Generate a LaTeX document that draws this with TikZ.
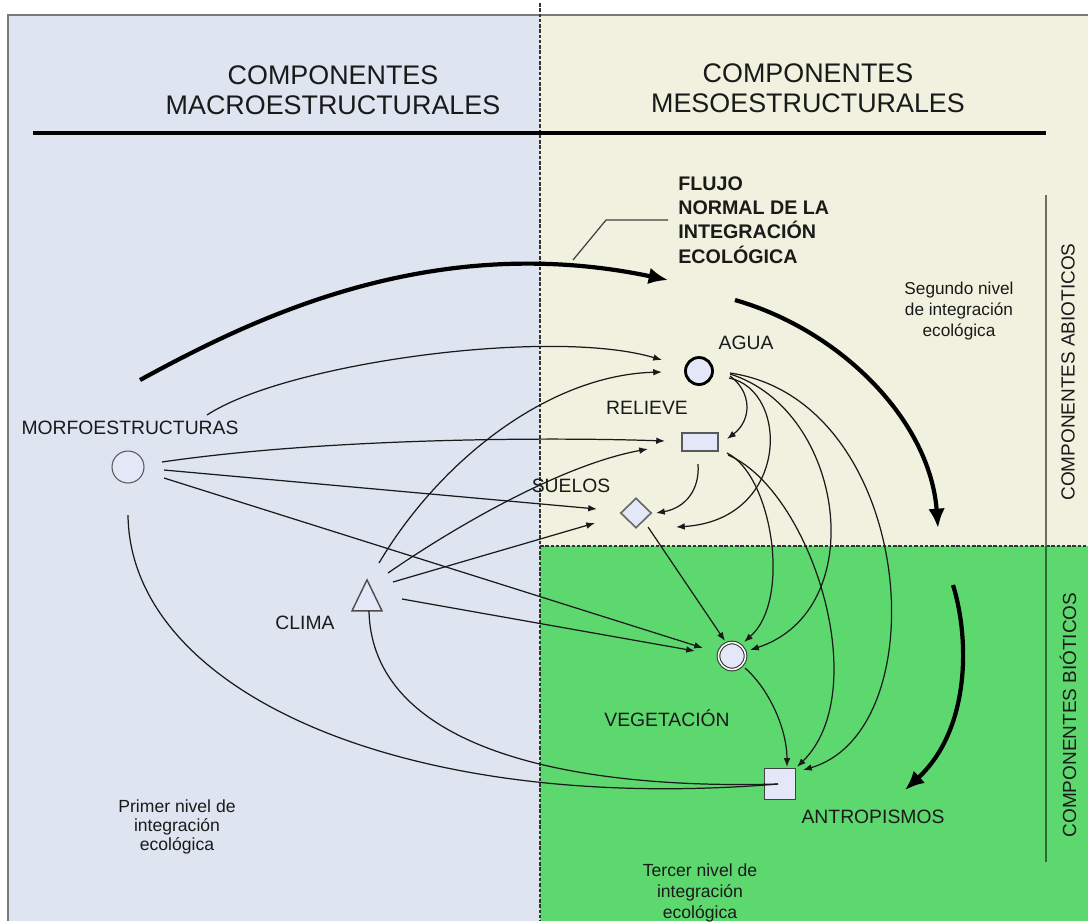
\documentclass[tikz,border=0pt]{standalone}
\usepackage{fontspec}
\setmainfont{Liberation Sans}
\usetikzlibrary{arrows.meta,shapes.geometric,calc}
\definecolor{leftbg}{HTML}{DEE5F1}
\definecolor{creambg}{HTML}{F0F1DE}
\definecolor{greenbg}{HTML}{5DD86F}
\definecolor{nodefill}{HTML}{E4E7F7}
\definecolor{ink}{HTML}{1A1A1A}
\definecolor{framegray}{HTML}{7A7A7A}
\definecolor{sidegray}{HTML}{6E6E60}
\definecolor{sidegreen}{HTML}{2E6A33}
\tikzset{
  thinarr/.style={draw=ink, line width=0.7pt, -{Latex[length=5pt,width=3.8pt]}},
  thinline/.style={draw=ink, line width=0.7pt},
  thickarr/.style={draw=black, line width=2.4pt, -{Latex[length=11pt,width=9.5pt]}},
  lbl/.style={text=ink, font=\fontsize{11}{13}\selectfont, inner sep=0pt},
  hdr/.style={text=ink, font=\fontsize{15.3}{17}\selectfont, align=center, inner sep=0pt},
  sidelbl/.style={text=ink, font=\fontsize{10.8}{12}\selectfont, rotate=90, inner sep=0pt},
  morfoshape/.style={circle, draw=black!65, fill=nodefill, line width=0.6pt, minimum size=0.64cm, inner sep=0pt},
  aguashape/.style={circle, draw=black, fill=nodefill, line width=1.6pt, minimum size=0.54cm, inner sep=0pt},
  relieveshape/.style={rectangle, draw=black!65, fill=nodefill, line width=1.1pt, minimum width=0.72cm, minimum height=0.36cm, inner sep=0pt},
  suelosshape/.style={diamond, draw=black!60, fill=nodefill, line width=0.9pt, minimum width=0.62cm, minimum height=0.6cm, inner sep=0pt},
  vegshape/.style={circle, draw=black!80, double=white, double distance=0.9pt, fill=nodefill, line width=0.6pt, minimum size=0.54cm, inner sep=0pt},
  antroshape/.style={rectangle, draw=black!75, fill=nodefill, line width=0.9pt, minimum size=0.62cm, inner sep=0pt},
  climashape/.style={isosceles triangle, isosceles triangle stretches, shape border rotate=90, draw=black!70, fill=nodefill, line width=0.8pt, minimum width=0.6cm, minimum height=0.62cm, inner sep=0pt}
}
\begin{document}
\begin{tikzpicture}[x=0.02cm,y=-0.02cm]
\useasboundingbox (0,0) rectangle (1088,921);
% backgrounds
\fill[white] (0,0) rectangle (1088,921);
\fill[leftbg] (8,15) rectangle (540,921);
\fill[creambg] (540,15) rectangle (1088,546);
\fill[greenbg] (540,546) rectangle (1088,921);
\draw[framegray, line width=0.8pt] (8,921) -- (8,15) -- (1088,15);
\draw[black!80, line width=0.8pt, dash pattern=on 2pt off 1pt] (540,3) -- (540,921);
\draw[black!80, line width=0.8pt, dash pattern=on 2pt off 1pt] (540,546) -- (1088,546);
\draw[black, line width=2.4pt] (33,133) -- (1046,133);
\draw[sidegray, line width=1pt] (1046,195) -- (1046,546);
\draw[sidegreen, line width=1pt] (1046,546) -- (1046,862);

% headers
\node[hdr] (hleft) at (333,90) {COMPONENTES\\MACROESTRUCTURALES};
\node[hdr] (hright) at (808,88) {COMPONENTES\\MESOESTRUCTURALES};

% side labels
\node[sidelbl] (abio) at (1068,372) {COMPONENTES ABIOTICOS};
\node[sidelbl] (bio) at (1068,715) {COMPONENTES BIÓTICOS};

% level notes
\node[text=ink, font=\fontsize{10}{10.8}\selectfont, align=center, inner sep=0pt] (primer) at (177,827) {Primer nivel de\\integración\\ecológica};
\node[text=ink, font=\fontsize{9.8}{11.9}\selectfont, align=center, inner sep=0pt] (segundo) at (959,311) {Segundo nivel\\de integración\\ecológica};
\node[text=ink, font=\fontsize{10}{12}\selectfont, align=center, inner sep=0pt] (tercer) at (700,893) {Tercer nivel de\\integración\\ecológica};

% flow label
\node[text=ink, font=\bfseries\fontsize{11.2}{13.9}\selectfont, align=left, anchor=west, inner sep=0pt] (flujo) at (678,220) {FLUJO\\NORMAL DE LA\\INTEGRACIÓN\\ECOLÓGICA};

% component nodes
\node[morfoshape] (morfo) at (128,467) {};
\node[aguashape] (agua) at (699,371) {};
\node[relieveshape] (relieve) at (700,442) {};
\node[suelosshape] (suelos) at (636,513) {};
\node[vegshape] (veg) at (732,656) {};
\node[antroshape] (antro) at (780,784) {};
\node[climashape, anchor=apex] (clima) at (367,578) {};

% component labels
\node[lbl] (lmorfo) at (130,428) {MORFOESTRUCTURAS};
\node[lbl] (lclima) at (305,623) {CLIMA};
\node[lbl] (lagua) at (746,343) {AGUA};
\node[lbl] (lrelieve) at (647,408) {RELIEVE};
\node[lbl] (lsuelos) at (571,486) {SUELOS};
\node[lbl] (lveg) at (667,718) {VEGETACIÓN};
\node[lbl] (lantro) at (873,817) {ANTROPISMOS};

% thick flow arrows
\coordinate (t1s) at (140,380);
\coordinate (t1e) at (668,280);
\coordinate (t2s) at (735,300);
\coordinate (t2e) at (938,528);
\coordinate (t3s) at (953,585);
\coordinate (t3e) at (905,790);
\coordinate (lead) at (573,260);
\draw[thickarr] (t1s) .. controls (250,320) and (430,230) .. (t1e);
\draw[thickarr] (t2s) .. controls (840,330) and (930,420) .. (t2e);
\draw[thickarr] (t3s) .. controls (970,640) and (970,730) .. (t3e);
\draw[black!75, line width=0.7pt] (lead) -- (606,220) -- ($(flujo.west)+(-10,0)$);

% from MORFOESTRUCTURAS
\draw[thinarr] ($(morfo)+(79,-52)$) .. controls (286,363) and (551,327) .. ($(agua)+(-37,-11)$);
\draw[thinarr] ($(morfo)+(34,-5)$) .. controls (326,438) and (550,437) .. ($(relieve)+(-35,-1)$);
\draw[thinarr] ($(morfo)+(36,3)$) -- ($(suelos)+(-39,-4)$);
\draw[thinarr] ($(morfo)+(36,11)$) -- ($(veg)+(-29,-8)$);
\draw[thinline] ($(morfo)+(0,48)$) .. controls (130,690) and (400,815) .. ($(antro)+(-2,0)$);

% from CLIMA
\draw[thinarr] ($(clima.apex)+(12,-15)$) .. controls (440,460) and (549,375) .. ($(agua)+(-37,1)$);
\draw[thinarr] ($(clima.apex)+(21,-5)$) .. controls (450,530) and (560,465) .. ($(relieve)+(-52,7)$);
\draw[thinarr] ($(clima.apex)+(26,4)$) -- ($(suelos)+(-41,10)$);
\draw[thinarr] ($(clima.apex)+(35,21)$) -- ($(veg)+(-37,-5)$);
\draw[thinline] ($(antro)+(-2,0)$) .. controls (560,790) and (372,745) .. ($(clima.apex)+(2,33)$);

% from AGUA
\draw[thinarr] ($(agua)+(31,5)$) .. controls (752,392) and (752,420) .. ($(relieve)+(27,-3)$);
\draw[thinarr] ($(agua)+(30,7)$) .. controls (790,390) and (790,520) .. ($(suelos)+(40,14)$);
\draw[thinarr] ($(agua)+(31,3)$) .. controls (845,410) and (872,610) .. ($(veg)+(18,-6)$);
\draw[thinarr] ($(agua)+(31,2)$) .. controls (915,400) and (940,730) .. ($(antro)+(23,-14)$);

% from RELIEVE
\draw[thinarr] ($(relieve)+(-2,22)$) .. controls (700,490) and (685,508) .. ($(suelos)+(20,0)$);
\draw[thinarr] ($(relieve)+(27,11)$) .. controls (772,475) and (792,600) .. ($(veg)+(12,-14)$);
\draw[thinarr] ($(relieve)+(28,13)$) .. controls (810,490) and (875,690) .. ($(antro)+(17,-17)$);

% from SUELOS and VEGETACION
\draw[thinarr] ($(suelos)+(12,14)$) -- ($(veg)+(-7,-15)$);
\draw[thinarr] ($(veg)+(13,12)$) .. controls (770,690) and (787,730) .. ($(antro)+(7,-17)$);
\end{tikzpicture}
\end{document}
